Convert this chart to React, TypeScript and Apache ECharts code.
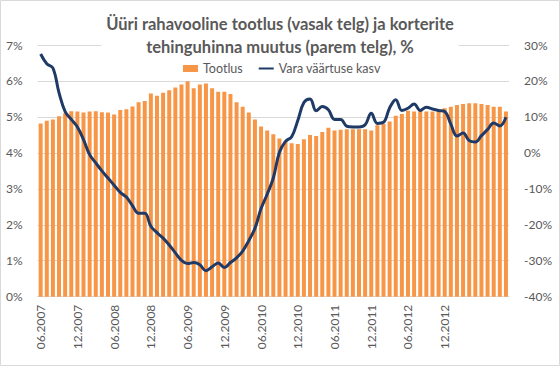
import React, { useEffect, useRef } from "react";
import * as echarts from "echarts";

const categories = [
  "06.2007", "07.2007", "08.2007", "09.2007", "10.2007", "11.2007", "12.2007",
  "01.2008", "02.2008", "03.2008", "04.2008", "05.2008", "06.2008", "07.2008", "08.2008", "09.2008", "10.2008", "11.2008", "12.2008",
  "01.2009", "02.2009", "03.2009", "04.2009", "05.2009", "06.2009", "07.2009", "08.2009", "09.2009", "10.2009", "11.2009", "12.2009",
  "01.2010", "02.2010", "03.2010", "04.2010", "05.2010", "06.2010", "07.2010", "08.2010", "09.2010", "10.2010", "11.2010", "12.2010",
  "01.2011", "02.2011", "03.2011", "04.2011", "05.2011", "06.2011", "07.2011", "08.2011", "09.2011", "10.2011", "11.2011", "12.2011",
  "01.2012", "02.2012", "03.2012", "04.2012", "05.2012", "06.2012", "07.2012", "08.2012", "09.2012", "10.2012", "11.2012", "12.2012",
  "01.2013", "02.2013", "03.2013", "04.2013", "05.2013", "06.2013", "07.2013", "08.2013", "09.2013", "10.2013",
];

const tootlus = [
  4.82, 4.89, 4.93, 5.02, 5.10, 5.16, 5.15, 5.12, 5.15, 5.16, 5.13, 5.12, 5.07,
  5.19, 5.21, 5.29, 5.41, 5.44, 5.65, 5.59, 5.67, 5.74, 5.82, 5.90, 5.99,
  5.80, 5.90, 5.93, 5.80, 5.70, 5.70, 5.64,
  5.41, 5.28, 5.12, 4.93, 4.73, 4.62, 4.52, 4.40, 4.33, 4.27, 4.25,
  4.38, 4.50, 4.47, 4.58, 4.70, 4.62, 4.64, 4.66, 4.66, 4.66, 4.66, 4.62,
  4.77, 4.80, 4.87, 5.03, 5.08, 5.17, 5.15, 5.19, 5.15, 5.15, 5.19, 5.24, 5.28, 5.33, 5.36, 5.38, 5.38, 5.36, 5.33, 5.28, 5.28, 5.15,
];

const varaKasv = [
  27.5, 24.8, 23.6, 16.7, 11.5, 9.3, 7.2, 3.7, -0.5, -2.8, -5.0, -7.0, -9.0,
  -11.0, -12.3, -14.7, -16.8, -16.8, -20.4, -22.2, -23.7, -25.6, -27.8, -29.9, -30.8,
  -30.5, -31.1, -32.8, -31.7, -30.6, -31.9, -30.5, -29.2, -27.3, -24.4, -21.0, -15.5, -11.5, -7.0,
  0.2, 3.2, 4.5, 9.0, 14.0, 15.0, 11.7, 12.9, 12.0, 9.3, 9.3, 7.4, 7.2, 7.2, 7.8,
  11.0, 8.2, 8.5, 12.5, 14.8, 11.8, 12.4, 13.6, 11.8, 12.7, 12.2, 11.8, 11.5, 8.0, 4.7, 5.5, 3.4, 3.0, 4.8, 6.5, 8.3, 7.5, 9.9,
];

const titleText = "Üüri rahavooline tootlus (vasak telg) ja korterite\ntehinguhinna muutus (parem telg), %";
const seriesNames = ["Tootlus", "Vara väärtuse kasv"];
const leftAxisRange = [0, 7, 1];
const rightAxisRange = [-40, 30, 10];
const lastLabelIndex = 66;

const FONT = "Lato";
const GREY = "#595959";

export default function App() {
  const ref = useRef<HTMLDivElement>(null);
  useEffect(() => {
    if (!ref.current) return;
    const chart = echarts.init(ref.current, undefined, { renderer: "svg" });
    chart.setOption({
      animation: false,
      backgroundColor: "#ffffff",
      textStyle: { fontFamily: FONT },
      title: {
        text: titleText,
        left: "center",
        top: 8,
        z: 6,
        backgroundColor: "#ffffff",
        padding: [4, 5, 0, 5],
        textStyle: {
          fontFamily: FONT,
          fontSize: 16.5,
          fontWeight: "bold",
          color: GREY,
          lineHeight: 23,
        },
      },
      legend: {
        left: 178,
        top: 57,
        z: 20,
        itemWidth: 15,
        itemHeight: 7,
        itemGap: 15,
        textStyle: { fontFamily: FONT, fontSize: 12.5, color: GREY },
        data: [
          { name: seriesNames[0], icon: "rect" },
          { name: seriesNames[1], itemStyle: { opacity: 0 } },
        ],
      },
      grid: { left: 37.6, right: 51, top: 45, bottom: 69.3, containLabel: false },
      xAxis: {
        type: "category",
        data: categories,
        boundaryGap: true,
        axisTick: { show: false },
        axisLine: { show: true, lineStyle: { color: "#D9D9D9" } },
        axisLabel: {
          rotate: 90,
          margin: 8,
          fontFamily: FONT,
          fontSize: 12,
          color: GREY,
          interval: (index: number) => index % 6 === 0 && index <= lastLabelIndex,
        },
      },
      yAxis: [
        {
          type: "value",
          min: leftAxisRange[0],
          max: leftAxisRange[1],
          interval: leftAxisRange[2],
          axisLine: { show: false },
          axisTick: { show: false },
          splitLine: { lineStyle: { color: "#D9D9D9", width: 1 } },
          axisLabel: {
            formatter: (v: number) => `${v}%`,
            fontFamily: FONT,
            fontSize: 12,
            color: GREY,
            margin: 15,
          },
        },
        {
          type: "value",
          min: rightAxisRange[0],
          max: rightAxisRange[1],
          interval: rightAxisRange[2],
          axisLine: { show: false },
          axisTick: { show: false },
          splitLine: { show: false },
          axisLabel: {
            formatter: (v: number) => `${v}%`,
            fontFamily: FONT,
            fontSize: 12,
            color: GREY,
            margin: 15,
          },
        },
      ],
      series: [
        {
          name: seriesNames[0],
          type: "bar",
          yAxisIndex: 0,
          data: tootlus,
          barCategoryGap: "35%",
          itemStyle: { color: "#F79646" },
        },
        {
          name: seriesNames[1],
          type: "line",
          yAxisIndex: 1,
          data: varaKasv,
          smooth: 0.4,
          symbol: "none",
          z: 5,
          lineStyle: { color: "#1F3A66", width: 3 },
          itemStyle: { color: "#1F3A66" },
        },
      ],
      graphic: [
        {
          type: "rect",
          shape: { x: 0.5, y: 0.5, width: 559, height: 365 },
          style: { fill: "none", stroke: "#D9D9D9", lineWidth: 1 },
          silent: true,
        },
      ],
    });
    return () => chart.dispose();
  }, []);
  return (
    <div
      ref={ref}
      style={{ position: "fixed", left: 0, top: 0, width: 560, height: 366 }}
    />
  );
}
